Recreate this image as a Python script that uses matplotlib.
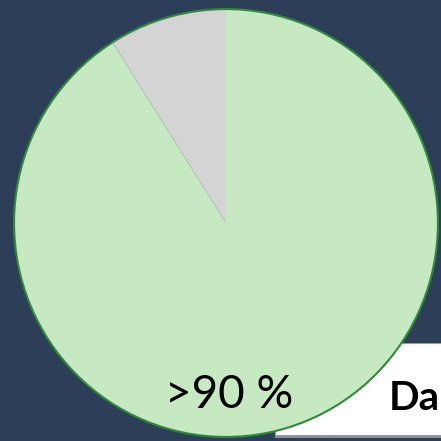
import matplotlib.pyplot as plt
from matplotlib.patches import Circle, Rectangle

# valores do gráfico (fatias)
labels = ["resto", ">90 %"]
values = [9, 91]
colors = ["#d4d4d4", "#c6e9c2"]
pie_text = ">90 %"
box_text = "Da"

W = 441.0
bg = "#2c3e58"

fig = plt.figure(figsize=(4.41, 4.41), dpi=100, facecolor=bg)

# caixa branca atrás da pizza (a pizza cobre o lado esquerdo)
fig.patches.append(Rectangle((275 / W, 1 - 438 / W), 200 / W, 4 / W, transform=fig.transFigure,
                             facecolor="#8a8f98", edgecolor="none", zorder=-2))
fig.patches.append(Rectangle((275 / W, 1 - 435 / W), 200 / W, 92 / W, transform=fig.transFigure,
                             facecolor="white", edgecolor="#9a9a9a", lw=0.8, zorder=-1))

# eixo da pizza (pixels: x 13..439, y 8..438)
ax = fig.add_axes([13 / W, 1 - 438 / W, 426 / W, 430 / W])
ax.pie(values, colors=colors, startangle=90, counterclock=True,
       wedgeprops=dict(edgecolor="none", linewidth=0))
ax.add_patch(Circle((0, 0), 1, fill=False, edgecolor="#2f8a3c", linewidth=1.5))
ax.set_aspect("auto")
ax.set_xlim(-1.005, 1.005)
ax.set_ylim(-1.005, 1.005)
ax.axis("off")

fig.text(229 / W, 1 - 408 / W, pie_text, ha="center", va="baseline",
         fontsize=33, family="Lato", color="black")
fig.text(389 / W, 1 - 410 / W, box_text, ha="left", va="baseline",
         fontsize=29, family="Lato", fontweight="bold", color="black")

fig.savefig("out.png", dpi=100, facecolor=bg)
